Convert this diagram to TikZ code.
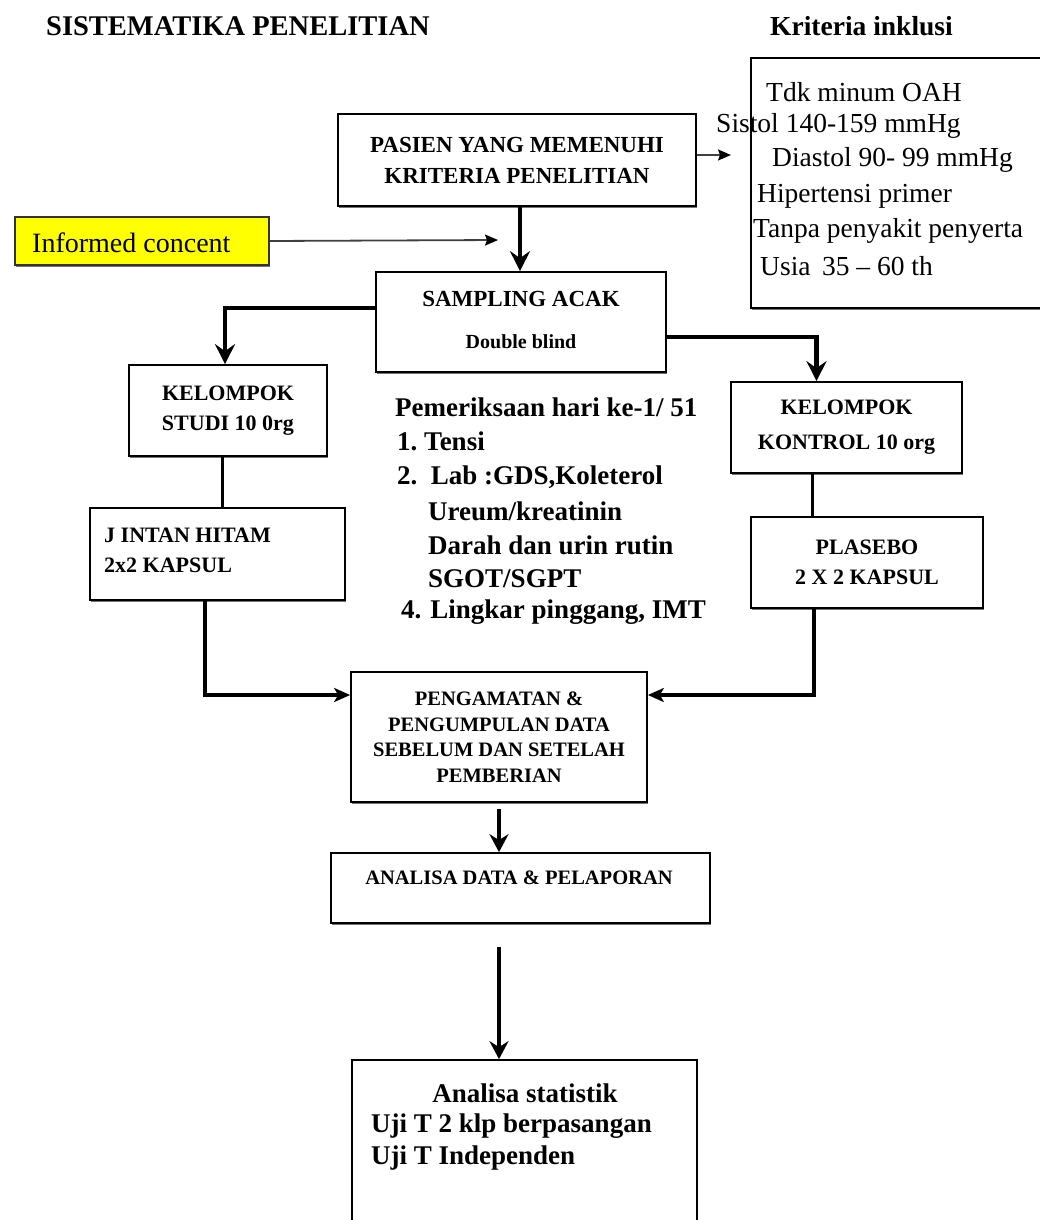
\documentclass[tikz,border=0pt]{standalone}
\usepackage{fontspec}
\setmainfont{Liberation Serif}
\usetikzlibrary{arrows.meta,calc,shadows}
\definecolor{icyellow}{HTML}{FFFF00}
\begin{document}
\begin{tikzpicture}[x=1pt,y=-1pt,
  box/.style={draw, line width=1.7pt, fill=white, inner sep=0pt, align=center,
    drop shadow={shadow xshift=0.5pt, shadow yshift=-2pt, fill=black!55, opacity=1}},
  boxfont/.style={font=\bfseries\fontsize{22}{30}\selectfont},
  txt/.style={inner sep=0pt, anchor=west},
  krit/.style={txt, font=\fontsize{27.5}{30}\selectfont},
  mid/.style={txt, font=\bfseries\fontsize{27}{30}\selectfont},
  thickarr/.style={line width=4.3pt, -{Stealth[length=20pt,width=20pt,inset=7pt]}},
  medarr/.style={line width=3.3pt, -{Stealth[length=18pt,width=19pt,inset=6pt]}},
  sidearr/.style={line width=3.3pt, -{Stealth[length=16pt,width=14pt,inset=4pt]}},
  medline/.style={line width=3pt},
  thinarr/.style={line width=1.8pt, draw=black!75, -{Stealth[length=13pt,width=11pt,inset=2pt,color=black]}}
]
\useasboundingbox (0,0) rectangle (1040,1220);

% titles
\node[txt, font=\bfseries\fontsize{28.5}{30}\selectfont] (title) at (46,26) {SISTEMATIKA PENELITIAN};
\node[txt, font=\bfseries\fontsize{27.5}{30}\selectfont] (krtitle) at (770,26) {Kriteria inklusi};

% kriteria box
\node[box, minimum width=309, minimum height=250] (kriteria) at (905.5,183) {};
\node[krit] (kr1) at (766,92) {Tdk minum OAH};
\node[krit] (kr2) at (716,126) {Sistol 140-159 mmHg};
\node[krit] (kr3) at (772,160) {Diastol 90- 99 mmHg};
\node[krit] (kr4) at (757,196) {Hipertensi primer};
\node[krit] (kr5) at (753,231) {Tanpa penyakit penyerta};
\node[krit] (kr6) at (760,266) {Usia\, 35 -- 60 th};

% main boxes
\node[box, font=\bfseries\fontsize{23}{31}\selectfont, minimum width=358, minimum height=92] (pasien) at (517,160) {PASIEN YANG MEMENUHI\\KRITERIA PENELITIAN};

\node[box, fill=icyellow, draw=black!80, minimum width=254, minimum height=48] (informed) at (142,241) {};
\node[txt, font=\fontsize{28}{30}\selectfont] (informedT) at (32,243) {Informed concent};

\node[box, minimum width=290, minimum height=100] (sampling) at (521,322) {};
\node[inner sep=0pt, font=\bfseries\fontsize{23}{26}\selectfont] (samp1) at (521,299) {SAMPLING ACAK};
\node[inner sep=0pt, font=\bfseries\fontsize{20}{22}\selectfont] (samp2) at (521,342) {Double blind};

\node[box, boxfont, minimum width=198, minimum height=91] (studi) at (228,410.5) {KELOMPOK\\STUDI 10 0rg};
\node[box, minimum width=255, minimum height=92] (jintan) at (217.5,554) {};
\node[txt, font=\bfseries\fontsize{22}{30}\selectfont, align=left] (jintanT) at (104,550) {J INTAN HITAM\\2x2 KAPSUL};

\node[box, font=\bfseries\fontsize{22}{35}\selectfont, minimum width=231, minimum height=91] (kontrol) at (846.5,427.5) {KELOMPOK\\KONTROL 10 org};
\node[box, boxfont, minimum width=232, minimum height=91] (plasebo) at (867,562.5) {PLASEBO\\2 X 2 KAPSUL};

% middle text
\node[mid] (m1) at (395,407) {Pemeriksaan hari ke-1/ 51};
\node[mid] (m2) at (397,441) {1.\ Tensi};
\node[mid] (m3) at (397,477) {2.\ \ Lab :GDS,Koleterol};
\node[mid] (m4) at (428,511) {Ureum/kreatinin};
\node[mid] (m5) at (428,545) {Darah dan urin rutin};
\node[mid] (m6) at (428,579) {SGOT/SGPT};
\node[mid] (m7) at (401,612) {4. Lingkar pinggang, IMT};

\node[box, font=\bfseries\fontsize{20.5}{25.5}\selectfont, minimum width=296, minimum height=130] (pengamatan) at (499,737) {PENGAMATAN \&\\PENGUMPULAN DATA\\SEBELUM DAN SETELAH\\PEMBERIAN};

\node[box, minimum width=379, minimum height=70] (analisa) at (520.5,888) {};
\node[inner sep=0pt, font=\bfseries\fontsize{20.5}{24}\selectfont] (analisaT) at (519,878) {ANALISA DATA \& PELAPORAN};

\node[box, minimum width=345, minimum height=190] (stat) at (524.5,1155) {};
\node[inner sep=0pt, font=\bfseries\fontsize{27}{30}\selectfont] (st1) at (525,1093) {Analisa statistik};
\node[mid] (st2) at (371,1126) {Uji T 2 klp berpasangan};
\node[mid] (st3) at (371,1158) {Uji T Independen};

% connectors
\coordinate (krin) at (731,155);
\draw[thinarr] ([yshift=5pt]pasien.east) -- (krin);
\coordinate (icend) at (498,240);
\draw[thinarr] (informed.east) -- (icend);
\draw[thickarr] ([xshift=3pt]pasien.south) -- ([xshift=3pt]pasien.south |- sampling.north);
\draw[thickarr] ([yshift=14pt]sampling.west) -| ([xshift=-3pt]studi.north);
\draw[thickarr] ([yshift=-15pt]sampling.east) -| ([xshift=-30pt]kontrol.north);
\draw[medline] ([xshift=-6pt]studi.south) -- ([xshift=-6pt]studi.south |- jintan.north);
\draw[medline] ([xshift=-34pt]kontrol.south) -- ([xshift=-34pt]kontrol.south |- plasebo.north);
\draw[sidearr] ([xshift=-12.5pt]jintan.south) |- ([yshift=42pt]pengamatan.west);
\draw[sidearr] ([xshift=-53pt]plasebo.south) |- ([yshift=42pt]pengamatan.east);
\draw[medarr] ([yshift=-6pt]pengamatan.south) -- (pengamatan.south |- analisa.north);
\coordinate (anout) at (499,947);
\draw[medarr] (anout) -- (anout |- stat.north);
\end{tikzpicture}
\end{document}
